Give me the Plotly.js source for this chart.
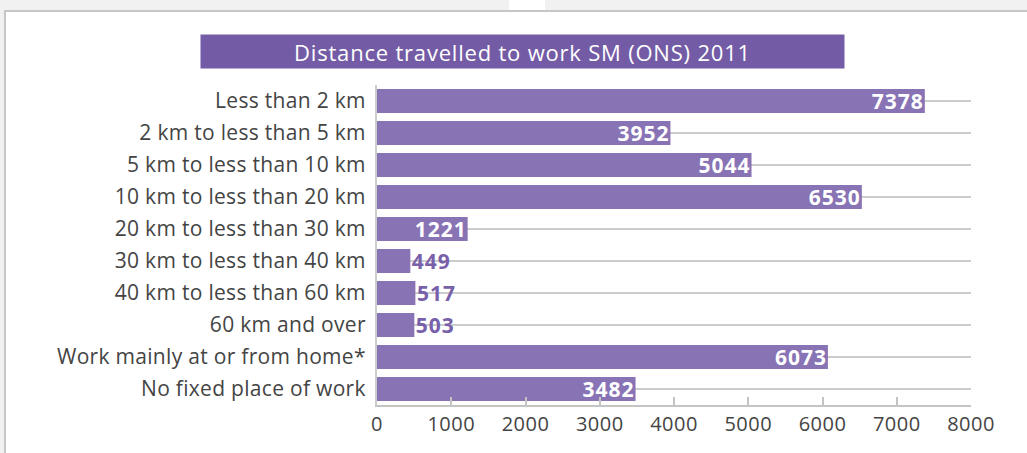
<!DOCTYPE html>
<html>
<head>
<meta charset="utf-8">
<script src="https://cdn.plot.ly/plotly-3.0.1.min.js"></script>
<style>
  html, body { margin: 0; padding: 0; background: #f1f1f1; width: 1027px; height: 453px; overflow: hidden; }
  #frame { position: absolute; left: 4px; top: 10px; width: 1023px; height: 443px; background: #ffffff;
           border-top: 2px solid #c6c6c6; border-left: 2px solid #c6c6c6; box-sizing: border-box; }
  #patch { position: absolute; left: 509px; top: 0; width: 36px; height: 10px; background: #ffffff; }
  #chart { position: absolute; left: 0; top: 0; width: 1027px; height: 453px; }
  #chart .ytick text { letter-spacing: 0.3px; }
  #chart .xtick text { letter-spacing: 0.5px; }
  #chart .annotation-text { letter-spacing: 0.8px; }
  #chart .bartext, #chart .bartext text { letter-spacing: 1px; }
</style>
</head>
<body>
<div id="patch"></div>
<div id="frame"></div>
<div id="chart"></div>
<script>
const chartTitle = "Distance travelled to work SM (ONS) 2011";
const categories = [
  "Less than 2 km",
  "2 km to less than 5 km",
  "5 km to less than 10 km",
  "10 km to less than 20 km",
  "20 km to less than 30 km",
  "30 km to less than 40 km",
  "40 km to less than 60 km",
  "60 km and over",
  "Work mainly at or from home*",
  "No fixed place of work"
];
const values = [7378, 3952, 5044, 6530, 1221, 449, 517, 503, 6073, 3482];
const xTicks = [0, 1000, 2000, 3000, 4000, 5000, 6000, 7000, 8000];

const FONT = "'Open Sans', 'Noto Sans', sans-serif";
const barColor = "#8873b5";
const labelPurple = "#7860aa";
const textPositions = values.map(v => v < 1000 ? "outside" : "inside");

const trace = {
  type: "bar",
  orientation: "h",
  x: values,
  y: categories,
  text: values.map(String),
  texttemplate: "%{text}",
  textposition: textPositions,
  insidetextanchor: "end",
  textangle: 0,
  constraintext: "none",
  cliponaxis: false,
  insidetextfont: { family: FONT, size: 21, color: "#ffffff", weight: "bold" },
  outsidetextfont: { family: FONT, size: 21, color: labelPurple, weight: "bold" },
  marker: { color: barColor, line: { width: 0 } },
  hoverinfo: "none"
};

const layout = {
  width: 1027,
  height: 453,
  margin: { l: 377, r: 56, t: 85, b: 48, pad: 0 },
  paper_bgcolor: "rgba(0,0,0,0)",
  plot_bgcolor: "rgba(0,0,0,0)",
  bargap: 0.25,
  showlegend: false,
  font: { family: FONT, color: "#444444" },
  xaxis: {
    range: [0, 8000],
    tickvals: xTicks,
    ticktext: xTicks.map(String),
    ticks: "inside",
    ticklen: 8,
    tickwidth: 2,
    tickcolor: "#c4c4c4",
    showline: true,
    linecolor: "#c4c4c4",
    linewidth: 2,
    showgrid: false,
    zeroline: false,
    tickfont: { size: 20, color: "#444444", family: FONT },
    fixedrange: true
  },
  yaxis: {
    autorange: "reversed",
    type: "category",
    showgrid: true,
    gridcolor: "#cccccc",
    gridwidth: 2,
    showline: true,
    linecolor: "#cccccc",
    linewidth: 2,
    ticks: "outside",
    ticklen: 5,
    tickcolor: "rgba(0,0,0,0)",
    zeroline: false,
    tickfont: { size: 21, color: "#444444", family: FONT },
    fixedrange: true
  },
  annotations: [{
    xref: "paper", yref: "paper",
    x: (522.5 - 377) / 594, y: (405 - 51.5) / 320,
    xanchor: "center", yanchor: "middle",
    text: chartTitle,
    showarrow: false,
    width: 643, height: 33,
    bgcolor: "#735ca5",
    borderpad: 0,
    font: { family: FONT, size: 22, color: "#ffffff" }
  }]
};

Plotly.newPlot("chart", [trace], layout, { displayModeBar: false, staticPlot: true });
</script>
</body>
</html>
